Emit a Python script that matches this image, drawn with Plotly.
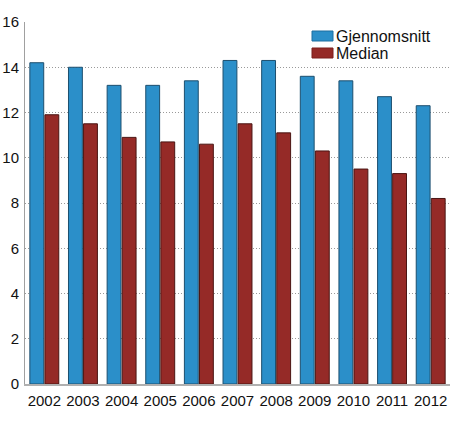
import plotly.graph_objects as go

years = ["2002", "2003", "2004", "2005", "2006", "2007", "2008", "2009", "2010", "2011", "2012"]
gjennomsnitt = [14.2, 14.0, 13.2, 13.2, 13.4, 14.3, 14.3, 13.6, 13.4, 12.7, 12.3]
median = [11.9, 11.5, 10.9, 10.7, 10.6, 11.5, 11.1, 10.3, 9.5, 9.3, 8.2]
y_ticks = [0, 2, 4, 6, 8, 10, 12, 14, 16]

BLUE = "#2b8fc9"
RED = "#952a27"
FONT = "Liberation Sans, Arial, sans-serif"

fig = go.Figure()
fig.add_trace(go.Bar(x=years, y=gjennomsnitt, name="Gjennomsnitt",
                     marker=dict(color=BLUE, line=dict(color="#1d4f6e", width=1))))
fig.add_trace(go.Bar(x=years, y=median, name="Median",
                     marker=dict(color=RED, line=dict(color="#4a1513", width=1))))

W, H = 450, 424
ml, mr, mt, mb = 25, 0, 22, 40
pw, ph = W - ml - mr, H - mt - mb

def px(x):
    return (x - ml) / pw

def py(y):
    return 1 - (y - mt) / ph

shapes = []
annotations = []
for i, (name, col, lc) in enumerate([("Gjennomsnitt", BLUE, "#1d6fa0"), ("Median", RED, "#7a1f1c")]):
    y0 = 31 + i * 17
    shapes.append(dict(type="rect", xref="paper", yref="paper",
                       x0=px(312), x1=px(333), y0=py(y0 + 10), y1=py(y0),
                       fillcolor=col, line=dict(color=lc, width=1)))
    annotations.append(dict(text=name, xref="paper", yref="paper",
                            x=px(334), y=py(y0 + 5), xanchor="left", yanchor="middle",
                            showarrow=False, font=dict(family=FONT, size=16, color="#111111")))

fig.update_layout(
    width=W, height=H,
    margin=dict(l=ml, r=mr, t=mt, b=mb, autoexpand=False),
    paper_bgcolor="white", plot_bgcolor="white",
    barmode="group", bargap=0.22, bargroupgap=0.08,
    showlegend=False,
    font=dict(family=FONT, size=15, color="#111111"),
    shapes=shapes, annotations=annotations,
    xaxis=dict(showline=True, linecolor="#b0b0b0", linewidth=2, ticks="",
               tickfont=dict(size=15), showgrid=False, automargin=False,
               ticklabelstandoff=2),
    yaxis=dict(range=[0, 16], tickvals=y_ticks, showline=True, linecolor="#a0a0a0", linewidth=1,
               showgrid=True, gridcolor="#999999", griddash="1px,2px", gridwidth=1,
               zeroline=False, ticks="", tickfont=dict(size=15), ticklabelstandoff=2,
               automargin=False),
)

fig.write_html(
    "out.html",
    config={"displayModeBar": False},
    post_script="document.body.style.margin='0';document.body.style.overflow='hidden';",
)
